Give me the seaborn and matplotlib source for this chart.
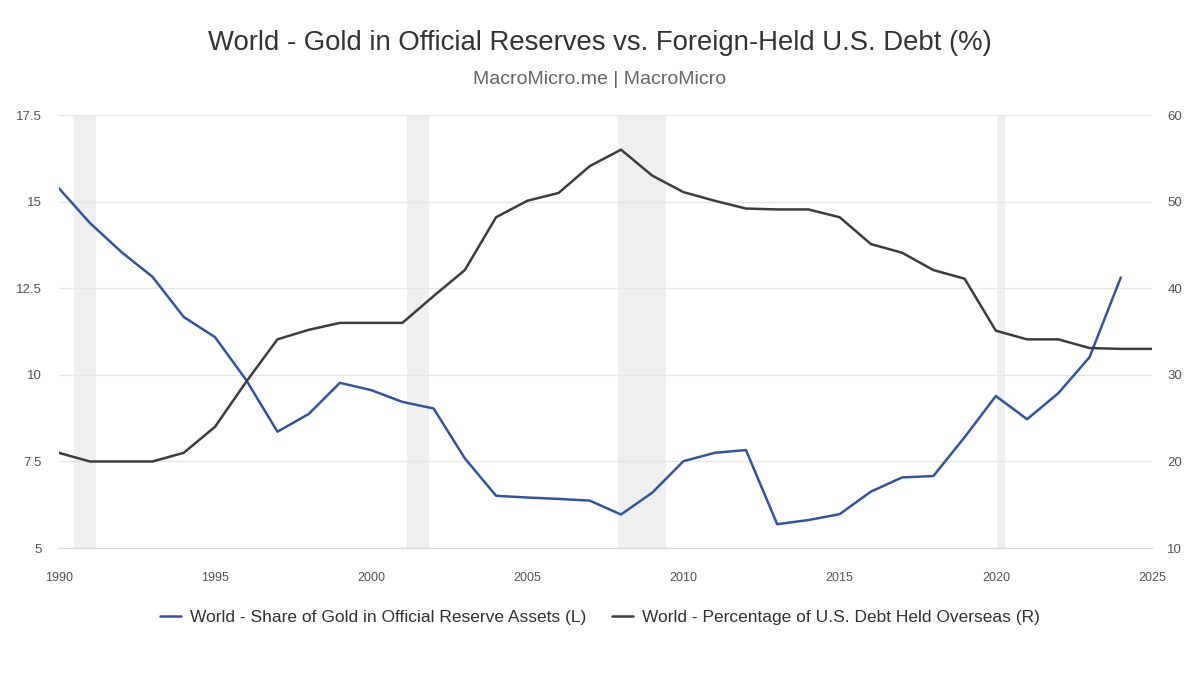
import numpy as np
import pandas as pd
import matplotlib
matplotlib.use("Agg")
import matplotlib.pyplot as plt
import seaborn as sns

years = list(range(1990, 2025))
gold_share = [15.39, 14.38, 13.55, 12.83, 11.67, 11.09, 9.85, 8.36, 8.87, 9.77,
              9.56, 9.22, 9.03, 7.59, 6.51, 6.46, 6.42, 6.37, 5.97, 6.60,
              7.51, 7.75, 7.83, 5.69, 5.81, 5.98, 6.63, 7.04, 7.08, 8.20,
              9.39, 8.72, 9.47, 10.51, 12.81]
debt_years = list(range(1990, 2026))
debt_overseas = [21.0, 20.0, 20.0, 20.0, 21.0, 24.0, 29.2, 34.1, 35.2, 36.0,
                 36.0, 36.0, 39.1, 42.1, 48.2, 50.1, 51.0, 54.1, 56.0, 53.0,
                 51.1, 50.1, 49.2, 49.1, 49.1, 48.2, 45.1, 44.1, 42.1, 41.1,
                 35.1, 34.1, 34.1, 33.1, 33.0, 33.0]
recessions = [(1990.5, 1991.2), (2001.15, 2001.85), (2007.9, 2009.45), (2020.05, 2020.3)]

gold_label = "World - Share of Gold in Official Reserve Assets (L)"
debt_label = "World - Percentage of U.S. Debt Held Overseas (R)"
blue = "#34559c"
dark = "#3d3d3d"

df_gold = pd.DataFrame({"year": years, "value": gold_share})
df_debt = pd.DataFrame({"year": debt_years, "value": debt_overseas})

sns.set_style("white")
plt.rcParams['font.family'] = ['Liberation Sans', 'DejaVu Sans']

fig = plt.figure(figsize=(12, 6.75), dpi=100)
ax = fig.add_axes([0.049, 0.188, 0.911, 0.6416])
ax2 = ax.twinx()

# shaded recession bands
for a, b in recessions:
    ax.axvspan(a, b, color="#efefef", zorder=0, lw=0)

sns.lineplot(data=df_gold, x="year", y="value", ax=ax, color=blue, lw=1.8, label=gold_label, legend=False)
sns.lineplot(data=df_debt, x="year", y="value", ax=ax2, color=dark, lw=1.8, label=debt_label, legend=False)

ax.set_xlim(1990, 2025)
ax.set_ylim(5, 17.5)
ax2.set_ylim(10, 60)
ax.set_xticks(range(1990, 2026, 5))
ax.set_yticks([5, 7.5, 10, 12.5, 15, 17.5])
ax.set_yticklabels(["5", "7.5", "10", "12.5", "15", "17.5"])
ax2.set_yticks(range(10, 61, 10))
ax.grid(axis="y", color="#e6e6e6", lw=1)
ax.set_xlabel("")
ax.set_ylabel("")
ax2.set_ylabel("")
for a in (ax, ax2):
    for s in a.spines.values():
        s.set_visible(False)
ax.spines["bottom"].set_visible(True)
ax.spines["bottom"].set_color("#d8d8d8")
ax.tick_params(axis="x", length=9, color="#e0e0e0", labelsize=9, labelcolor="#555555", pad=8)
ax.tick_params(axis="y", length=0, labelsize=9.5, labelcolor="#555555", pad=12)
ax2.tick_params(axis="y", length=0, labelsize=9.5, labelcolor="#555555", pad=11)

fig.text(0.5, 0.937, "World - Gold in Official Reserves vs. Foreign-Held U.S. Debt (%)",
         ha="center", va="center", fontsize=19.8, color="#333333")
fig.text(0.5, 0.882, "MacroMicro.me | MacroMicro", ha="center", va="center",
         fontsize=14, color="#666666")

handles = [ax.get_lines()[0], ax2.get_lines()[0]]
fig.legend(handles, [gold_label, debt_label], loc="center", bbox_to_anchor=(0.5, 0.085),
           ncol=2, frameon=False, fontsize=12.5, handlelength=1.2, columnspacing=1.5,
           handletextpad=0.5, labelcolor="#333333")

fig.savefig("out.png", dpi=100)
